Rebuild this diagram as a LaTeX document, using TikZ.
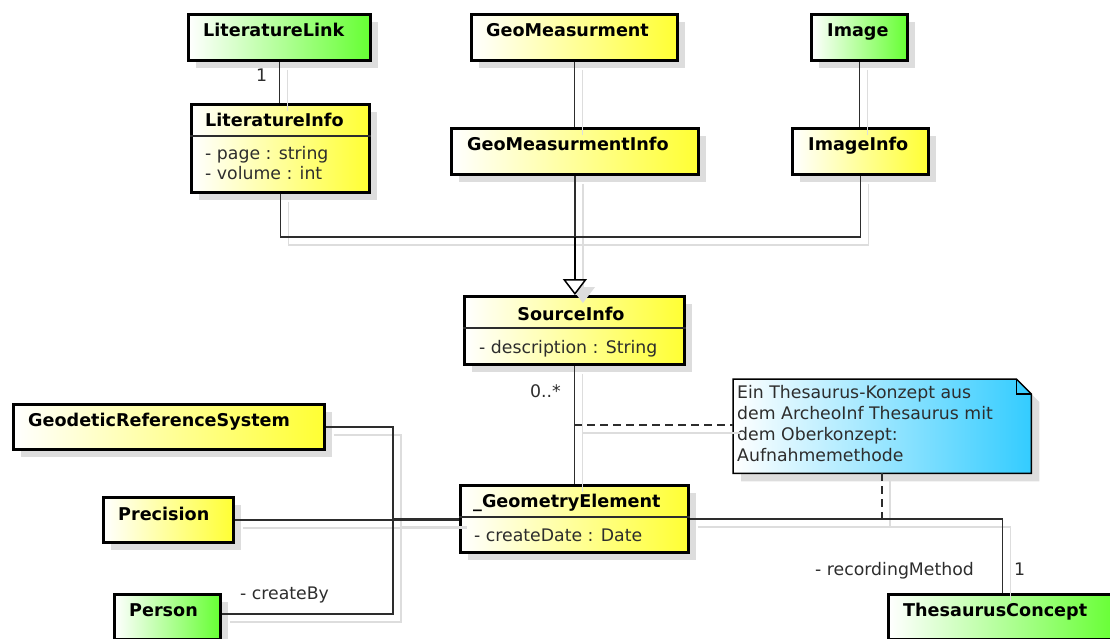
\documentclass[tikz,border=0pt]{standalone}
\usepackage{fontspec}
\setmainfont{DejaVu Sans}
\usetikzlibrary{shadows,arrows.meta,calc}
\definecolor{clsyellow}{RGB}{255,255,51}
\definecolor{clsgreen}{RGB}{102,255,51}
\definecolor{notecyan}{RGB}{51,204,255}
\definecolor{shadowgray}{RGB}{221,221,221}
\definecolor{ink}{RGB}{45,45,45}

\tikzset{
  box/.style={draw=black, line width=2.8pt, inner sep=0pt, anchor=north west,
    drop shadow={shadow xshift=8pt, shadow yshift=-8pt, fill=shadowgray, opacity=1}},
  yellowbox/.style={box, left color=white, right color=clsyellow},
  greenbox/.style={box, left color=white, right color=clsgreen},
  title/.style={font=\bfseries\fontsize{17.6}{20}\selectfont, anchor=base west, inner sep=0pt},
  attr/.style={font=\fontsize{17.3}{20}\selectfont, anchor=base west, inner sep=0pt, text=ink},
  conn/.style={line width=1.5pt, draw=ink},
  connshadow/.style={line width=1.5pt, draw=shadowgray, transform canvas={shift={(8pt,-8pt)}}},
  notelink/.style={conn, dash pattern=on 8pt off 5pt},
  sepline/.style={line width=1.3pt, draw=ink},
}

\begin{document}
\begin{tikzpicture}[x=1pt,y=-1pt]
\useasboundingbox (0,0) rectangle (1110,639);

% ---- class boxes ----
\node[greenbox,  minimum width=182pt, minimum height=46pt] (litlink)   at (187,13)  {};
\node[yellowbox, minimum width=178pt, minimum height=88pt] (litinfo)   at (190,103) {};
\node[yellowbox, minimum width=206pt, minimum height=46pt] (geomeas)   at (470,13)  {};
\node[yellowbox, minimum width=247pt, minimum height=46pt] (geominfo)  at (450,127) {};
\node[greenbox,  minimum width=96pt,  minimum height=46pt] (image)     at (810,13)  {};
\node[yellowbox, minimum width=136pt, minimum height=46pt] (imginfo)   at (791,127) {};
\node[yellowbox, minimum width=220pt, minimum height=68pt] (srcinfo)   at (463,295) {};
\node[yellowbox, minimum width=228pt, minimum height=67pt] (geomelem)  at (459,484) {};
\node[yellowbox, minimum width=311pt, minimum height=45pt] (grs)       at (12,403)  {};
\node[yellowbox, minimum width=130pt, minimum height=45pt] (precision) at (102,496) {};
\node[greenbox,  minimum width=106pt, minimum height=45pt] (person)    at (113,593) {};
\node[greenbox,  minimum width=228pt, minimum height=45pt] (thes)      at (887,593) {};

% compartment separators
\draw[sepline] ($(litinfo.north west)+(0,33)$) -- ($(litinfo.north east)+(0,33)$);
\draw[sepline] ($(srcinfo.north west)+(0,33)$) -- ($(srcinfo.north east)+(0,33)$);
\draw[sepline] ($(geomelem.north west)+(0,33)$) -- ($(geomelem.north east)+(0,33)$);

% ---- class names and attributes ----
\node[title] (t-litlink)  at (203,37)  {LiteratureLink};
\node[title] (t-litinfo)  at (205,127) {LiteratureInfo};
\node[attr]  (a-page)     at (205,160) {- page : string};
\node[attr]  (a-volume)   at (205,180) {- volume : int};
\node[title] (t-geomeas)  at (486,37)  {GeoMeasurment};
\node[title] (t-geominfo) at (467,151) {GeoMeasurmentInfo};
\node[title] (t-image)    at (827,37)  {Image};
\node[title] (t-imginfo)  at (808,151) {ImageInfo};
\node[title, anchor=base] (t-srcinfo) at (571,320) {SourceInfo};
\node[attr]  (a-descr)    at (479,353) {- description : String};
\node[title] (t-geomelem) at (473,507) {\_GeometryElement};
\node[attr]  (a-date)     at (474,541) {- createDate : Date};
\node[title] (t-grs)      at (28,426)  {GeodeticReferenceSystem};
\node[title] (t-prec)     at (118,520) {Precision};
\node[title] (t-person)   at (129,616) {Person};
\node[title] (t-thes)     at (903,616) {ThesaurusConcept};

% ---- note ----
\node[minimum width=298pt, minimum height=94pt, inner sep=0pt, anchor=north west] (note) at (733,379) {};
\fill[shadowgray, transform canvas={shift={(8pt,-8pt)}}]
  (note.north west) -- ($(note.north east)+(-15,0)$) -- ($(note.north east)+(0,15)$)
  -- (note.south east) -- (note.south west) -- cycle;
\path[draw=black, line width=1.5pt, left color=white, right color=notecyan]
  (note.north west) -- ($(note.north east)+(-15,0)$) -- ($(note.north east)+(0,15)$)
  -- (note.south east) -- (note.south west) -- cycle;
\draw[line width=1.2pt] ($(note.north east)+(-15,0)$) -- ($(note.north east)+(-15,15)$) -- ($(note.north east)+(0,15)$);
\node[attr] (n-l1) at (737,398) {Ein Thesaurus-Konzept aus};
\node[attr] (n-l2) at (737,419) {dem ArcheoInf Thesaurus mit};
\node[attr] (n-l3) at (737,440) {dem Oberkonzept:};
\node[attr] (n-l4) at (737,461) {Aufnahmemethode};

% ---- junction points ----
\coordinate (gj) at ($(geominfo.south)+(0,61)$);
\coordinate (na) at ($(srcinfo.south)!0.5!(geomelem.north)$);
\coordinate (nb) at (note.south |- geomelem.east);
\coordinate (lj) at (393,518.5);
\coordinate (pe) at ($(person.east)+(0,-3)$);

% ---- connector shadows ----
\begin{scope}[connshadow]
  \draw (litlink.south) -- (litlink.south |- litinfo.north);
  \draw (geomeas.south) -- (geomeas.south |- geominfo.north);
  \draw (image.south) -- (image.south |- imginfo.north);
  \draw (litinfo.south) |- (gj);
  \draw (imginfo.south) |- (gj);
  \draw (geominfo.south) -- (gj);
  \draw[-{Triangle[fill=shadowgray, width=24pt, length=16pt, line width=1.5pt]}] (gj) -- (gj |- srcinfo.north);
  \draw (srcinfo.south) -- (geomelem.north);
  \draw (na) -- (note.west |- na);
  \draw (note.south) -- (nb);
  \draw (grs.east) -| (lj) -- (geomelem.west |- lj);
  \draw (precision.east) -- (geomelem.west |- precision.east);
  \draw (pe) -| (lj);
  \draw (geomelem.east) -| (thes.north);
\end{scope}

% ---- connectors ----
\draw[conn] (litlink.south) -- (litlink.south |- litinfo.north);
\draw[conn] (geomeas.south) -- (geomeas.south |- geominfo.north);
\draw[conn] (image.south) -- (image.south |- imginfo.north);
\draw[conn] (litinfo.south) |- (gj);
\draw[conn] (imginfo.south) |- (gj);
\draw[conn] (geominfo.south) -- (gj);
\draw[conn, draw=black, line width=2.5pt, -{Triangle[open, fill=white, width=24pt, length=16pt, line width=1.5pt]}] (gj) -- (gj |- srcinfo.north);
\draw[conn] (srcinfo.south) -- (geomelem.north);
\draw[notelink] (na) -- (note.west |- na);
\draw[notelink] (note.south) -- (nb);
\draw[conn] (grs.east) -| (lj) -- (geomelem.west |- lj);
\draw[conn] (precision.east) -- (geomelem.west |- precision.east);
\draw[conn] (pe) -| (lj);
\draw[conn] (geomelem.east) -| (thes.north);

% ---- connector labels ----
\node[attr] (m-litlink) at (256,82)  {1};
\node[attr] (m-src)     at (530,397) {0..*};
\node[attr] (r-create)  at (240,599) {- createBy};
\node[attr] (r-record)  at (815,575) {- recordingMethod};
\node[attr] (m-thes)    at (1014,575) {1};
\end{tikzpicture}
\end{document}
